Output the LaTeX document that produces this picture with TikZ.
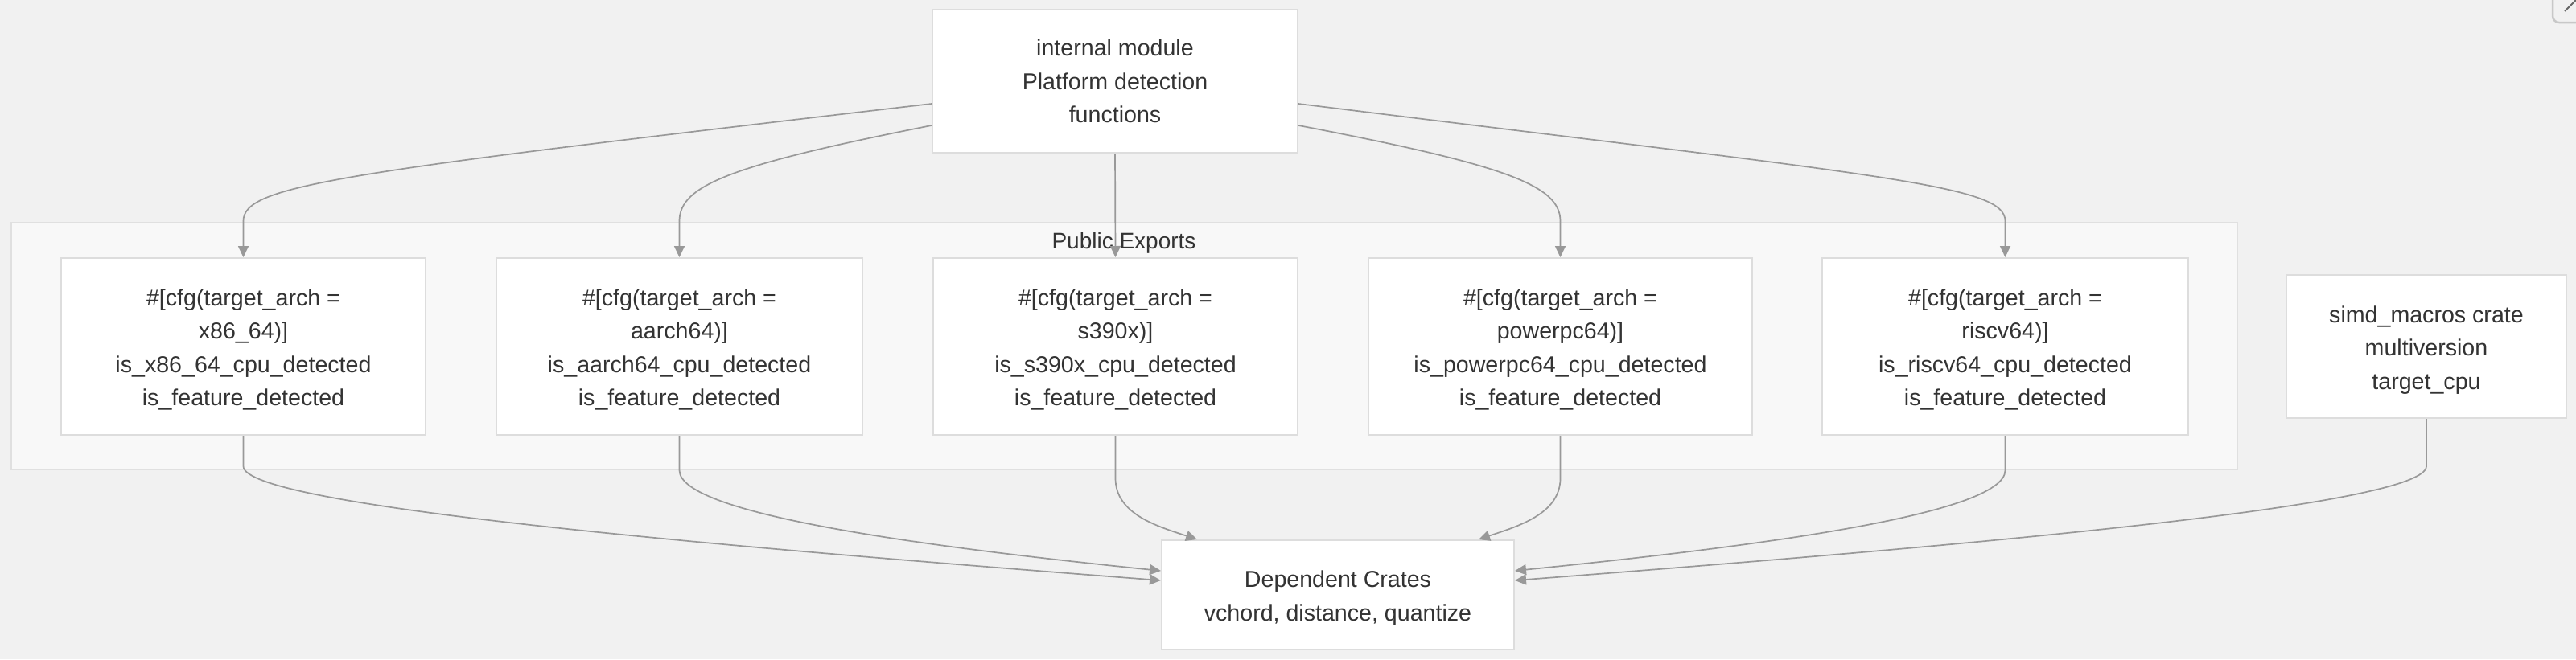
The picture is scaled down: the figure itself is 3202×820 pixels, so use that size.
\documentclass[tikz,border=0pt]{standalone}
\usepackage{fontspec}
\setmainfont{Liberation Sans}
\usetikzlibrary{arrows.meta}
\definecolor{bgc}{HTML}{F1F1F1}
\definecolor{clfill}{HTML}{F8F8F8}
\definecolor{clborder}{HTML}{E0E0E0}
\definecolor{nodeborder}{HTML}{DDDDDD}
\definecolor{edgec}{HTML}{999999}
\definecolor{txtc}{HTML}{333333}
\definecolor{iconc}{HTML}{C8C8C8}
\definecolor{icond}{HTML}{666666}
\newcommand{\topstrut}{\rule{0pt}{29pt}}
\tikzset{
  box/.style={draw=nodeborder, line width=2pt, fill=white, inner sep=0pt,
    align=center, text=txtc, font=\fontsize{28.6}{41.5}\selectfont},
  edge/.style={draw=edgec, line width=1.7pt, -{Triangle[length=14pt,width=13pt]}},
  clusterbox/.style={draw=clborder, line width=2pt, fill=clfill},
  clusterlabel/.style={text=txtc, font=\fontsize{28}{34}\selectfont, inner sep=0pt}
}
\begin{document}
\begin{tikzpicture}[x=1pt,y=-1pt]
\useasboundingbox (0,0) rectangle (3202,820);
\clip (0,0) rectangle (3202,820);
\fill[bgc] (0,0) rectangle (3202,820);
% top-right UI icon
\draw[iconc, line width=2.5pt, rounded corners=8pt] (3173,-20) rectangle (3240,28);
\draw[icond, line width=2pt] (3188,14) -- (3203,-1);
% cluster
\draw[clusterbox] (14,277) rectangle (2781,584);
\node[clusterlabel, anchor=base] (cl) at (1397,309) {Public Exports};
% nodes
\node[box, minimum width=454pt, minimum height=178pt] (top) at (1386,101)
  {internal module\\Platform detection\\functions};
\node[box, minimum width=453pt, minimum height=220pt] (x1) at (302.5,431)
  {\topstrut\#[cfg(target\_arch =\\x86\_64)]\\is\_x86\_64\_cpu\_detected\\is\_feature\_detected};
\node[box, minimum width=455pt, minimum height=220pt] (x2) at (844.5,431)
  {\topstrut\#[cfg(target\_arch =\\aarch64)]\\is\_aarch64\_cpu\_detected\\is\_feature\_detected};
\node[box, minimum width=453pt, minimum height=220pt] (x3) at (1386.5,431)
  {\topstrut\#[cfg(target\_arch =\\s390x)]\\is\_s390x\_cpu\_detected\\is\_feature\_detected};
\node[box, minimum width=477pt, minimum height=220pt] (x4) at (1939.5,431)
  {\topstrut\#[cfg(target\_arch =\\powerpc64)]\\is\_powerpc64\_cpu\_detected\\is\_feature\_detected};
\node[box, minimum width=455pt, minimum height=220pt] (x5) at (2492.5,431)
  {\topstrut\#[cfg(target\_arch =\\riscv64)]\\is\_riscv64\_cpu\_detected\\is\_feature\_detected};
\node[box, minimum width=348pt, minimum height=178pt] (simd) at (3016,431)
  {\topstrut simd\_macros crate\\multiversion\\target\_cpu};
\node[box, minimum width=438pt, minimum height=136pt] (dep) at (1663,740)
  {\topstrut Dependent Crates\\vchord, distance, quantize};
% edges from top
\draw[edge] ([yshift=-28pt]top.west) .. controls (420,215) and (302.5,230) .. (302.5,275) -- (x1.north);
\draw[edge] ([yshift=-55pt]top.west) .. controls (910,205) and (844.5,230) .. (844.5,275) -- (x2.north);
\draw[edge] (top.south) -- (x3.north);
\draw[edge] ([yshift=-55pt]top.east) .. controls (1870,205) and (1939.5,230) .. (1939.5,275) -- (x4.north);
\draw[edge] ([yshift=-28pt]top.east) .. controls (2350,220) and (2492.5,230) .. (2492.5,275) -- (x5.north);
% edges to dep
\draw[edge] (x1.south) -- (302.5,580) .. controls (302.5,630) and (900,680) .. ([yshift=18pt]dep.west);
\draw[edge] (x2.south) -- (844.5,585) .. controls (844.5,640) and (1150,680) .. ([yshift=30pt]dep.west);
\draw[edge] (x3.south) -- (1386.5,595) .. controls (1386.5,640) and (1440,655) .. ([xshift=-175pt]dep.north);
\draw[edge] (x4.south) -- (1939.5,595) .. controls (1939.5,640) and (1885,655) .. ([xshift=175pt]dep.north);
\draw[edge] (x5.south) -- (2492.5,585) .. controls (2492.5,640) and (2180,680) .. ([yshift=30pt]dep.east);
\draw[edge] (simd.south) -- (3016,580) .. controls (3016,630) and (2426,680) .. ([yshift=18pt]dep.east);
\end{tikzpicture}
\end{document}
